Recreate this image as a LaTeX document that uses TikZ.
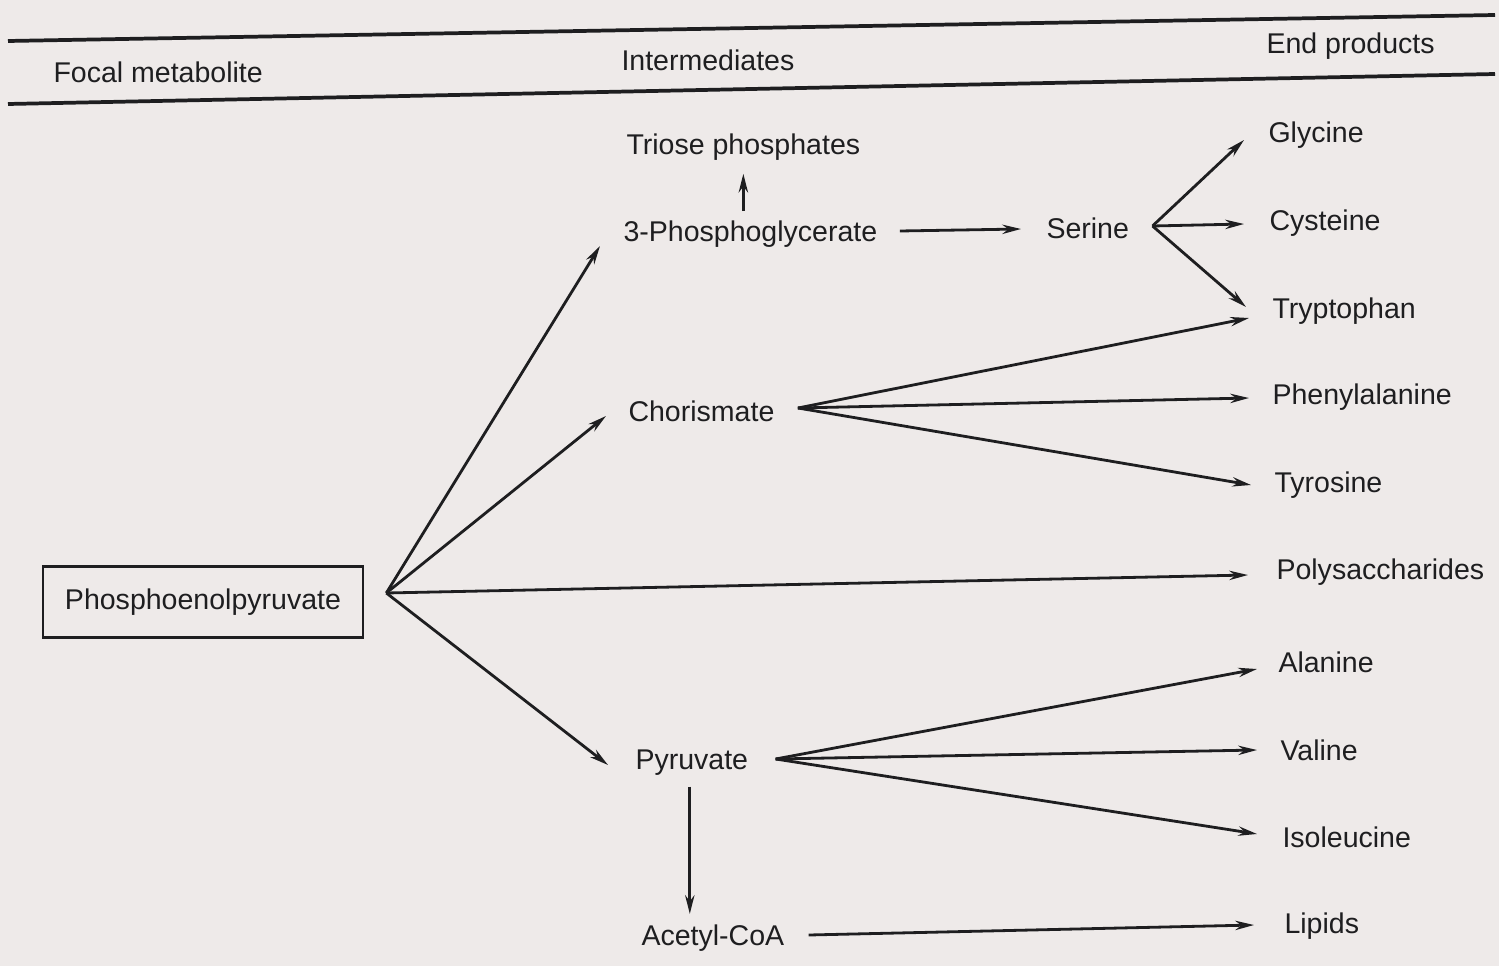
\documentclass[tikz,border=0pt]{standalone}
\usepackage{fontspec}
\setmainfont{Liberation Sans}
\usetikzlibrary{arrows.meta}

\definecolor{paper}{RGB}{238,234,233}
\definecolor{ink}{RGB}{30,30,32}

\tikzset{every picture/.style={line width=0.75pt}}
\tikzset{
  metab/.style={anchor=west, inner sep=0.75pt, text=ink, font=\fontsize{21.4}{26}\selectfont},
  headtxt/.style={metab, font=\fontsize{21.4}{26}\selectfont},
  arr/.style={draw=ink, line width=2.1pt, -{Stealth[length=14pt, width=7pt]}},
  rulebar/.style={draw=ink, line width=2.8pt}
}

\begin{document}
\begin{tikzpicture}[x=0.75pt,y=0.75pt,yscale=-1,xscale=1]
\useasboundingbox[fill=paper] (0,0) rectangle (1499,966);

%Shape: table rules
\draw [rulebar] (8,41) -- (1495,15) ;
\draw [rulebar] (8,104) -- (1495,74) ;

% Text Node
\node [headtxt] (hfocal) at (52,72) {Focal metabolite};
% Text Node
\node [headtxt] (hinter) at (620,60) {Intermediates};
% Text Node
\node [headtxt] (hend) at (1265,46) {End products};

% Focal metabolite (boxed)
\node [metab, anchor=center, draw=ink, line width=2pt, minimum width=240pt, minimum height=53pt] (pep) at (203,602) {Phosphoenolpyruvate};

% Intermediates
\node [metab] (tri) at (625,147) {Triose phosphates};
\node [metab] (pg) at (622,234) {3-Phosphoglycerate};
\node [metab] (ser) at (1045,228) {Serine};
\node [metab] (cho) at (627,411) {Chorismate};
\node [metab] (pyr) at (634,763) {Pyruvate};
\node [metab] (acoa) at (640,938) {Acetyl-CoA};

% End products
\node [metab] (gly) at (1267,135) {Glycine};
\node [metab] (cys) at (1268,223) {Cysteine};
\node [metab] (trp) at (1271,311) {Tryptophan};
\node [metab] (phe) at (1271,397) {Phenylalanine};
\node [metab] (tyr) at (1273,485) {Tyrosine};
\node [metab] (poly) at (1275,572) {Polysaccharides};
\node [metab] (ala) at (1277,662) {Alanine};
\node [metab] (val) at (1279,750) {Valine};
\node [metab] (ile) at (1281,837) {Isoleucine};
\node [metab] (lip) at (1283,926) {Lipids};

% fan points
\coordinate (pepfan) at ([shift={(22,-9)}]pep.east);
\coordinate (serfan) at ([shift={(22,-2)}]ser.east);
\coordinate (chofan) at ([shift={(22,-3)}]cho.east);
\coordinate (pyrfan) at ([shift={(26,-4)}]pyr.east);

% from phosphoenolpyruvate
\draw [arr] (pepfan) -- ([shift={(-22,12)}]pg.west) ;
\draw [arr] (pepfan) -- ([shift={(-21,5)}]cho.west) ;
\draw [arr] (pepfan) -- ([shift={(-27,3)}]poly.west) ;
\draw [arr] (pepfan) -- ([shift={(-26,2)}]pyr.west) ;

% 3-phosphoglycerate branch
\draw [arr, shorten <=6pt, shorten >=9pt] (pg.north -| tri.south) -- (tri.south) ;
\draw [arr] ([shift={(21,-3)}]pg.east) -- ([shift={(-24,1)}]ser.west) ;
\draw [arr] (serfan) -- ([shift={(-23,5)}]gly.west) ;
\draw [arr] (serfan) -- ([shift={(-24,1)}]cys.west) ;
\draw [arr] (serfan) -- ([shift={(-25,-4)}]trp.west) ;

% chorismate branch
\draw [arr] (chofan) -- ([shift={(-22,7)}]trp.west) ;
\draw [arr] (chofan) -- ([shift={(-22,1)}]phe.west) ;
\draw [arr] (chofan) -- ([shift={(-22,0)}]tyr.west) ;

% pyruvate branch
\draw [arr] (pyrfan) -- ([shift={(-20,7)}]ala.west) ;
\draw [arr] (pyrfan) -- ([shift={(-22,0)}]val.west) ;
\draw [arr] (pyrfan) -- ([shift={(-24,-3)}]ile.west) ;
\draw [arr, shorten <=7pt, shorten >=7pt] ([xshift=-1.5pt]pyr.south) -- ([xshift=-1.5pt]pyr.south |- acoa.north) ;
\draw [arr] ([shift={(23,-3)}]acoa.east) -- ([shift={(-29,-1)}]lip.west) ;

\end{tikzpicture}
\end{document}
